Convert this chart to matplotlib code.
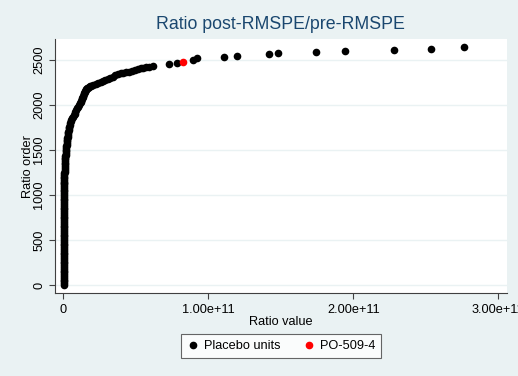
import matplotlib
matplotlib.use("Agg")
import matplotlib.pyplot as plt
from matplotlib.lines import Line2D

plt.rcParams['font.family'] = ['Liberation Sans', 'DejaVu Sans']

# Placebo units: ratio value (in units of 1e11) and ratio order
# dense part near zero
dense_rank = [0, 20, 40, 60, 80, 100, 120, 140, 160, 180, 200, 220, 240, 260, 280, 300,
              320, 340, 360, 380, 400, 420, 440, 460, 480, 500, 520, 540, 560, 580, 600,
              620, 640, 660, 680, 700, 720, 740, 760, 780, 800, 820, 840, 860, 880, 900,
              920, 940, 960, 980, 1000, 1020, 1040]
dense_value = [0.006] * len(dense_rank)

curve_rank = [1056, 1080, 1100, 1120, 1133, 1150, 1170, 1185, 1203, 1220, 1240, 1260,
              1278, 1300, 1320, 1340, 1356, 1375, 1395, 1415, 1433, 1450, 1467, 1485,
              1500, 1520, 1540, 1560, 1578, 1595, 1612, 1630, 1648, 1665, 1685, 1703,
              1722, 1740, 1760, 1780, 1800, 1818, 1835, 1852, 1870, 1888, 1905, 1925,
              1944, 1962, 1980, 2000, 2019, 2035, 2050, 2065, 2078, 2092, 2105, 2118,
              2130, 2143, 2155, 2167, 2178, 2187, 2195, 2203, 2211, 2216,
              2222, 2233, 2244, 2258, 2272, 2283, 2294, 2305, 2317, 2330, 2344, 2352,
              2361, 2366, 2372, 2380, 2389, 2398, 2408, 2413, 2419, 2426, 2433]
curve_value = [0.0069, 0.0069, 0.0069, 0.0069, 0.0069, 0.0070, 0.0072, 0.0074, 0.0076, 0.0079,
               0.0082, 0.0086, 0.009, 0.0096, 0.0103, 0.0110, 0.0117, 0.0123, 0.013, 0.0137,
               0.0145, 0.0155, 0.0165, 0.0175, 0.0186, 0.0199, 0.0212, 0.0226, 0.0241, 0.0255,
               0.027, 0.0287, 0.0303, 0.0319, 0.0335, 0.0353, 0.0372, 0.0393, 0.0415, 0.0438,
               0.0462, 0.051, 0.056, 0.061, 0.0669, 0.072, 0.078, 0.084, 0.091, 0.097,
               0.103, 0.109, 0.115, 0.119, 0.123, 0.127, 0.131, 0.135, 0.138, 0.141,
               0.145, 0.149, 0.152, 0.156, 0.160, 0.165, 0.170, 0.175, 0.181, 0.194,
               0.207, 0.223, 0.239, 0.257, 0.274, 0.291, 0.308, 0.325, 0.343, 0.360, 0.377, 0.395,
               0.412, 0.432, 0.453, 0.473, 0.494, 0.515, 0.536, 0.553, 0.570, 0.593, 0.617]

sparse_rank = [2456, 2470, 2500, 2519, 2537, 2548, 2563, 2574, 2586, 2600, 2611, 2622, 2641]
sparse_value = [0.729, 0.782, 0.897, 0.920, 1.108, 1.200, 1.421, 1.479, 1.743, 1.945,
                2.279, 2.538, 2.761]

# Treated unit
treated_rank = [2478]
treated_value = [0.828]

placebo_x = [v * 1e11 for v in dense_value + curve_value + sparse_value]
placebo_y = dense_rank + curve_rank + sparse_rank
treated_x = [v * 1e11 for v in treated_value]

bg = '#EAF2F3'
fig = plt.figure(figsize=(5.18, 3.76), dpi=100, facecolor=bg)
ax = fig.add_axes([0.1062, 0.22, 0.978 - 0.1062, 0.896 - 0.22])
ax.set_facecolor('white')

ms = 5.5
ax.plot(placebo_x, placebo_y, 'o', color='black', markersize=ms, markeredgewidth=0, zorder=3)
ax.plot(treated_x, treated_rank, 'o', color='#FF0000', markersize=ms, markeredgewidth=0, zorder=4)

ax.set_xlim(-0.0572e11, 3.058e11)
ax.set_ylim(-92, 2733)

ax.set_xticks([0, 1e11, 2e11, 3e11])
ax.set_xticklabels(['0', '1.00e+11', '2.00e+11', '3.00e+11'])
ax.set_yticks([0, 500, 1000, 1500, 2000, 2500])
ax.set_yticklabels(['0', '500', '1000', '1500', '2000', '2500'], rotation=90, va='center')

ax.grid(axis='y', color=bg, linewidth=1.0, zorder=1)
ax.set_axisbelow(True)

for s in ['top', 'right']:
    ax.spines[s].set_visible(False)
for s in ['left', 'bottom']:
    ax.spines[s].set_color('#404040')
    ax.spines[s].set_linewidth(0.8)
ax.tick_params(axis='both', colors='#404040', labelcolor='black', labelsize=9.2,
               length=4, width=0.8, direction='out')
ax.tick_params(axis='y', pad=3)

ax.set_xlabel('Ratio value', fontsize=9.2, labelpad=0)
ax.set_ylabel('Ratio order', fontsize=9.2)
ax.yaxis.set_label_coords(-0.047, 0.5)
ax.set_title('Ratio post-RMSPE/pre-RMSPE', fontsize=12.8, color='#1a476f', pad=7)

handles = [Line2D([], [], marker='o', linestyle='', color='black', markersize=4.5),
           Line2D([], [], marker='o', linestyle='', color='#FF0000', markersize=4.5)]
leg = fig.legend(handles, ['Placebo units', 'PO-509-4'], loc='center',
                 bbox_to_anchor=(281 / 518, 1 - 346 / 376), ncol=2, fontsize=9.2,
                 frameon=True, fancybox=False, edgecolor='#404040', handletextpad=0.3,
                 columnspacing=1.8, handlelength=1.0, borderpad=0.5)
leg.get_frame().set_linewidth(0.8)

fig.savefig('out.png', dpi=100, facecolor=bg)
